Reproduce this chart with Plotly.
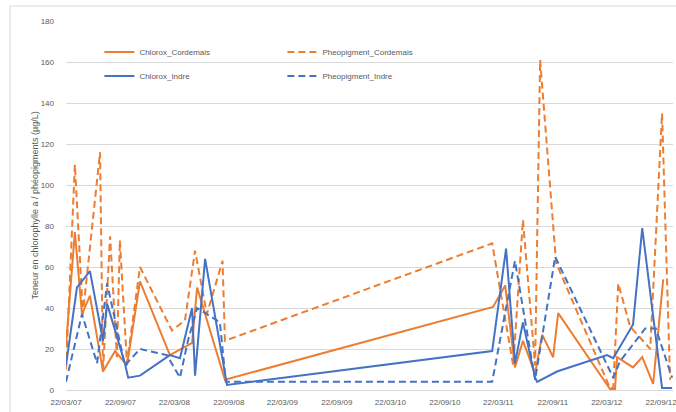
import plotly.graph_objects as go
from datetime import date

# ---------------- data ----------------
dates_chl_cord = ["2007-03-22", "2007-04-21", "2007-05-15", "2007-06-11", "2007-07-25",
                  "2007-09-04", "2007-10-14", "2007-11-27", "2008-03-07", "2008-05-21",
                  "2008-06-07", "2008-09-09", "2011-03-04", "2011-04-14", "2011-05-17",
                  "2011-06-13", "2011-07-24", "2011-08-17", "2011-09-23", "2011-10-10",
                  "2012-04-02", "2012-04-19", "2012-04-26", "2012-06-19", "2012-07-20",
                  "2012-08-26", "2012-09-29"]
chl_cord = [22, 77, 37, 46, 9, 19, 12, 53, 17, 23, 50, 5, 40.5, 51, 11, 24, 8, 27, 16, 37.5,
            0.5, 0.5, 16, 11, 16, 3, 54]

dates_pheo_cord = ["2007-03-22", "2007-04-21", "2007-05-18", "2007-07-15", "2007-07-25",
                   "2007-08-18", "2007-09-10", "2007-09-20", "2007-10-14", "2007-11-27",
                   "2008-03-14", "2008-04-27", "2008-05-31", "2008-07-10", "2008-09-01",
                   "2008-09-09", "2011-03-01", "2011-05-11", "2011-06-13", "2011-07-24",
                   "2011-08-10", "2011-10-03", "2012-04-02", "2012-04-13", "2012-04-30",
                   "2012-06-09", "2012-08-16", "2012-09-25", "2012-10-22"]
pheo_cord = [10, 110, 37, 116, 9, 75, 16, 73, 13, 60, 29, 34, 68, 37, 63, 24, 71.5, 12, 83, 12,
             161, 62, 1, 1, 52, 31, 20, 135, 5]

dates_chl_indre = ["2007-03-22", "2007-04-28", "2007-06-11", "2007-07-25", "2007-08-08",
                   "2007-10-07", "2007-10-18", "2007-11-27", "2008-03-07", "2008-04-10",
                   "2008-05-21", "2008-05-31", "2008-07-04", "2008-09-16", "2011-03-01",
                   "2011-04-17", "2011-05-17", "2011-06-13", "2011-07-24", "2011-07-31",
                   "2011-10-06", "2012-03-23", "2012-04-13", "2012-06-19", "2012-07-20",
                   "2012-09-25", "2012-10-29"]
chl_indre = [12, 50, 58, 24, 42, 13, 6, 7, 17, 15.5, 40, 7, 64, 2.5, 19, 69, 13, 33, 6, 4,
             9, 17, 15.5, 32, 79, 1, 1]

dates_pheo_indre = ["2007-03-22", "2007-05-15", "2007-07-05", "2007-08-08", "2007-10-07",
                    "2007-11-27", "2008-02-26", "2008-04-10", "2008-05-07", "2008-06-07",
                    "2008-08-23", "2008-09-12", "2011-03-01", "2011-05-17", "2011-07-24",
                    "2011-09-30", "2012-04-13", "2012-05-06", "2012-07-30", "2012-09-04",
                    "2012-10-29"]
pheo_indre = [4, 37, 13, 52, 12, 20, 17, 6, 24, 40, 33, 4, 4, 63, 5, 65, 6, 14, 30, 30, 6]

tick_dates = ["2007-03-22", "2007-09-22", "2008-03-22", "2008-09-22", "2009-03-22",
              "2009-09-22", "2010-03-22", "2010-09-22", "2011-03-22", "2011-09-22",
              "2012-03-22", "2012-09-22"]
tick_labels = [date.fromisoformat(d).strftime("%d/%m/%y") for d in tick_dates]
y_ticks = list(range(0, 181, 20))
y_title = "Teneur en chlorophylle a / phéopigments (µg/L)"

ORANGE = "#ED7D31"
BLUE = "#4472C4"
FONT = "Liberation Sans"
GREY_TXT = "#595959"

fig = go.Figure()
fig.add_trace(go.Scatter(x=dates_chl_cord, y=chl_cord, mode="lines", name="Chlorox_Cordemais",
                         line=dict(color=ORANGE, width=2), legend="legend"))
fig.add_trace(go.Scatter(x=dates_pheo_cord, y=pheo_cord, mode="lines", name="Pheopigment_Cordemais",
                         line=dict(color=ORANGE, width=2, dash="7px,4px"), legend="legend"))
fig.add_trace(go.Scatter(x=dates_chl_indre, y=chl_indre, mode="lines", name="Chlorox_Indre",
                         line=dict(color=BLUE, width=2), legend="legend2"))
fig.add_trace(go.Scatter(x=dates_pheo_indre, y=pheo_indre, mode="lines", name="Pheopigment_Indre",
                         line=dict(color=BLUE, width=2, dash="7px,4px"), legend="legend2"))

legend_common = dict(orientation="h", xanchor="left", yanchor="middle",
                     font=dict(family=FONT, size=8, color=GREY_TXT),
                     bgcolor="rgba(0,0,0,0)", entrywidth=138, entrywidthmode="pixels",
                     itemwidth=30)

fig.update_layout(
    width=676, height=412,
    margin=dict(l=66, r=3, t=21, b=22, autoexpand=False),
    paper_bgcolor="white", plot_bgcolor="white",
    font=dict(family=FONT, size=8, color=GREY_TXT),
    showlegend=True,
    legend=dict(x=0.055, y=0.916, **legend_common),
    legend2=dict(x=0.055, y=0.851, **legend_common),
    xaxis=dict(type="date", range=["2007-03-22", "2012-11-01"], automargin=False,
               tickvals=tick_dates, ticktext=tick_labels, tickangle=0,
               ticklabeloverflow="allow", ticklabelstandoff=4,
               showgrid=False, zeroline=False, showline=True, linecolor="#D9D9D9",
               ticks="", tickfont=dict(family=FONT, size=8, color=GREY_TXT)),
    yaxis=dict(range=[0, 180], tickvals=y_ticks, showgrid=True, gridcolor="#D9D9D9",
               gridwidth=1, zeroline=False, showline=False, ticks="", automargin=False,
               ticklabelstandoff=11,
               tickfont=dict(family=FONT, size=8, color=GREY_TXT)),
    annotations=[dict(text=y_title, xref="paper", yref="paper", x=-0.0527, y=0.5,
                      xanchor="center", yanchor="middle", textangle=-90, showarrow=False,
                      font=dict(family=FONT, size=9, color=GREY_TXT))],
    shapes=[dict(type="rect", xref="paper", yref="paper", x0=-0.0923, x1=1.02,
                 y0=-0.07, y1=1.0407, line=dict(color="#D9D9D9", width=1),
                 fillcolor="rgba(0,0,0,0)", layer="below")],
)

fig.write_html("out.html", config={"displayModeBar": False},
               post_script="document.body.style.margin='0px';document.body.style.overflow='hidden';")
